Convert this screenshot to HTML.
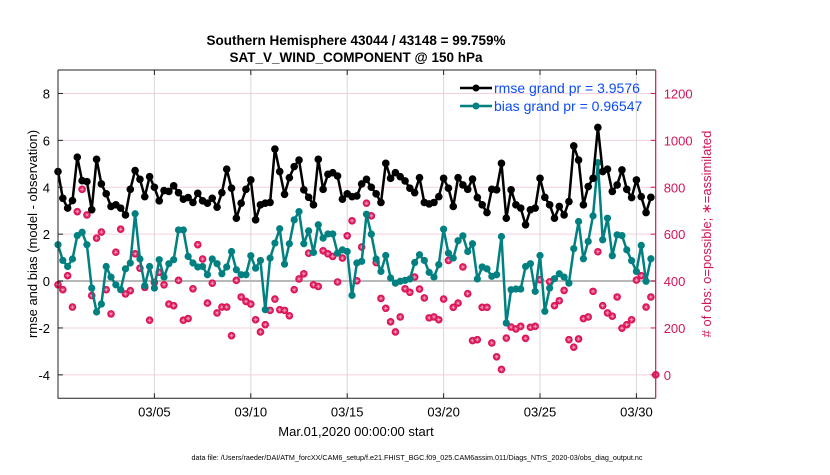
<!DOCTYPE html>
<html><head><meta charset="utf-8"><style>
body{margin:0;background:#fff;}
svg text{font-family:"Liberation Sans",sans-serif;}
</style></head><body>
<svg id="chart" width="830" height="470" viewBox="0 0 830 470" xmlns="http://www.w3.org/2000/svg">
<rect width="830" height="470" fill="#fff"/>
<text x="356" y="45" text-anchor="middle" font-size="13.5" font-weight="bold">Southern Hemisphere 43044 / 43148 = 99.759%</text>
<text x="356" y="62" text-anchor="middle" font-size="13.5" font-weight="bold">SAT_V_WIND_COMPONENT @ 150 hPa</text>
<g id="grid"></g>
<g id="marks"></g>
<g id="axes"></g>
<text transform="translate(37,234) rotate(-90)" text-anchor="middle" font-size="13">rmse and bias (model - observation)</text>
<text transform="translate(711,234) rotate(-90)" text-anchor="middle" font-size="13" fill="#d4145a"># of obs: o=possible; ∗=assimilated</text>
<text x="356" y="436" text-anchor="middle" font-size="13">Mar.01,2020 00:00:00 start</text>
<text x="417" y="460" text-anchor="middle" font-size="7.2">data file: /Users/raeder/DAI/ATM_forcXX/CAM6_setup/f.e21.FHIST_BGC.f09_025.CAM6assim.011/Diags_NTrS_2020-03/obs_diag_output.nc</text>
<g>
<line x1="460" y1="88" x2="492" y2="88" stroke="#000" stroke-width="2.5"/>
<circle cx="476" cy="88" r="3.5" fill="#000"/>
<text x="494" y="93" font-size="14" fill="#0b4cf5">rmse grand pr = 3.9576</text>
<line x1="460" y1="106" x2="492" y2="106" stroke="#008080" stroke-width="2.5"/>
<circle cx="476" cy="106" r="3.5" fill="#008080"/>
<text x="494" y="111" font-size="14" fill="#0b4cf5">bias grand pr = 0.96547</text>
</g>
</svg>
<script>
const rmse=[4.67,3.53,3.11,3.43,5.28,4.28,4.24,3.04,5.19,4.14,3.72,3.18,3.25,3.11,2.82,3.91,4.71,4.34,3.60,4.45,4.0,3.42,3.86,3.82,4.06,3.77,3.49,3.56,3.35,3.74,3.42,
3.32,3.53,3.15,3.77,4.77,3.96,2.68,3.32,3.91,4.31,2.61,3.25,3.32,3.35,5.63,4.67,3.70,4.41,4.88,5.16,3.89,3.57,3.25,5.19,3.91,4.55,4.62,4.48,3.49,3.72,
3.60,3.63,4.14,4.34,4.0,3.72,3.35,5.02,4.38,4.62,4.45,4.27,3.96,3.77,4.41,3.35,3.29,3.35,3.60,4.38,3.96,3.18,4.41,4.10,3.91,4.35,3.56,3.25,2.92,3.91,
3.89,5.02,2.68,3.89,3.25,3.11,2.40,3.04,3.11,4.38,3.57,3.25,2.68,3.18,2.82,3.39,5.76,5.16,3.25,4.03,4.38,6.55,4.67,4.77,3.82,4.10,4.74,3.91,3.56,4.31,3.60,2.92,3.57];
const bias=[1.55,0.88,0.62,0.94,1.94,2.08,1.55,-0.30,-1.32,-0.98,0.62,0.17,-0.16,-0.37,0.52,0.77,2.87,0.94,-0.20,0.62,-0.30,0.91,0.17,0.74,0.91,2.18,2.18,1.05,0.77,0.60,0.62,
0.27,0.94,0.74,0.31,0.60,1.26,0.48,0.27,0.27,1.08,0.55,0.88,-1.22,0.98,1.62,2.23,0.72,1.59,2.61,2.96,1.59,2.14,1.22,2.40,1.83,2.01,2.01,1.19,1.33,1.26,
-0.61,0.77,0.84,2.85,2.0,0.94,0.41,1.09,0.13,-0.09,-0.01,0.03,0.09,0.79,1.12,0.88,0.37,0.17,0.70,2.21,1.19,0.98,1.72,1.93,1.26,1.59,0.09,0.60,0.52,0.20,
0.27,1.90,-1.79,-0.37,-0.34,-0.34,0.62,0.74,-0.44,1.09,-1.29,-0.30,0.10,0.31,0.17,-0.09,1.38,2.54,0.95,1.69,2.78,5.05,1.76,2.68,1.08,1.97,1.94,1.33,0.87,0.41,1.52,-0.01,0.95];
const nobs=[384,363,423,289,696,791,682,338,583,609,363,260,523,621,345,359,516,455,373,233,394,437,384,302,295,403,233,240,367,555,494,
306,391,264,289,289,167,403,332,313,302,235,183,214,275,323,278,275,252,363,409,431,519,384,377,529,516,505,396,498,593,
657,401,545,732,678,479,326,284,226,183,247,367,352,417,366,328,243,247,235,323,488,288,306,460,346,146,150,288,288,136,
77,23,157,204,196,207,156,203,207,406,null,397,295,316,360,150,118,153,240,247,356,525,295,264,250,332,199,214,235,404,423,289,332,0];
const dayTicks=[5,10,15,20,25,30];
const dayLabels=["03/05","03/10","03/15","03/20","03/25","03/30"];
const leftTicks=[8,6,4,2,0,-2,-4];
const rightTicks=[0,200,400,600,800,1000,1200];

const NS="http://www.w3.org/2000/svg";
const X0=58,X1=655.7,Y0=70,Y1=398.3;
const xDay=d=>X0+(X1-X0)*d/31;
const yL=v=>Y1-(Y1-Y0)*(v+5)/14;
const yR=c=>yL(c/100-4);
function mk(tag,attrs,parent){const e=document.createElementNS(NS,tag);for(const k in attrs)e.setAttribute(k,attrs[k]);parent.appendChild(e);return e;}
const grid=document.getElementById('grid'),marks=document.getElementById('marks'),axes=document.getElementById('axes');

leftTicks.forEach(v=>{
  const g=mk('line',{x1:X0,x2:X1,y1:yL(v),y2:yL(v),stroke:'#f6cfe0','stroke-width':1},grid);
  
  
  const t=mk('text',{x:X0-8,y:yL(v)+5,'text-anchor':'end','font-size':13},axes);
  t.textContent=v;
  
  
  mk('line',{x1:X0,x2:X0+5,y1:yL(v),y2:yL(v),stroke:'#222'},axes);
});
rightTicks.forEach(c=>{
  const t=mk('text',{x:X1+8,y:yR(c)+5,'font-size':13,fill:'#d4145a'},axes);
  t.textContent=c;
  
  
  mk('line',{x1:X1-5,x2:X1,y1:yR(c),y2:yR(c),stroke:'#d4145a'},axes);
});
dayTicks.forEach((d,i)=>{
  const g=mk('line',{x1:xDay(d),x2:xDay(d),y1:Y0,y2:Y1,stroke:'#d8d8d8','stroke-width':1},grid);
  
  
  mk('line',{x1:xDay(d),x2:xDay(d),y1:Y1,y2:Y1-5,stroke:'#222'},axes);
  mk('line',{x1:xDay(d),x2:xDay(d),y1:Y0,y2:Y0+5,stroke:'#222'},axes);
  const t=mk('text',{x:xDay(d),y:Y1+18,'text-anchor':'middle','font-size':13},axes);
  t.textContent=dayLabels[i];
  
  
});
const zl=mk('line',{x1:X0,x2:X1,y1:yL(0),y2:yL(0),stroke:'#b8b8b8','stroke-width':2},grid);



nobs.forEach((c,i)=>{
  if(c===null)return;
  const x=xDay(i*0.25),y=yR(c);
  const g=mk('g',{},marks);
  
  
  mk('circle',{cx:x,cy:y,r:3.8,fill:'#dc1459'},g);
  mk('path',{d:`M${x-2.2} ${y}H${x+2.2}M${x} ${y-2.2}V${y+2.2}M${x-1.5} ${y-1.5}L${x+1.5} ${y+1.5}M${x-1.5} ${y+1.5}L${x+1.5} ${y-1.5}`,stroke:'#f7b8cf','stroke-width':0.5},g);
});
function series(arr,color,name,r){
  const pts=arr.map((v,i)=>xDay(i*0.25).toFixed(1)+','+yL(v).toFixed(1)).join(' ');
  const pl=mk('polyline',{points:pts,fill:'none',stroke:color,'stroke-width':2.5,'stroke-linejoin':'round'},marks);
  
  
  arr.forEach((v,i)=>{
    const c=mk('circle',{cx:xDay(i*0.25),cy:yL(v),r:r,fill:color},marks);
    
    
  });
}
series(bias,'#008080','bias',3.6);
series(rmse,'#000','rmse',3.8);
const fr=mk('path',{d:`M${X0} ${Y0}H${X1}M${X0} ${Y0}V${Y1}H${X1}`,fill:'none',stroke:'#222','stroke-width':1},axes);


const ra=mk('line',{x1:X1,x2:X1,y1:Y0,y2:Y1,stroke:'#d4145a','stroke-width':1.2},axes);


</script>
</body></html>
